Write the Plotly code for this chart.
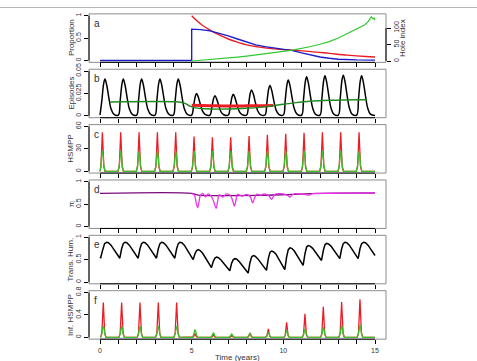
import plotly.graph_objects as go

# ---------------- data ----------------
years = list(range(15))

# panel a
a_red_t = [5.0, 5.3, 5.6, 6.0, 6.5, 7.0, 7.5, 8.0, 8.7, 9.5, 10.5, 11.5, 12.5, 13.5, 14.5, 15.0]
a_red_v = [1.0, 0.88, 0.78, 0.68, 0.57, 0.48, 0.41, 0.35, 0.30, 0.26, 0.23, 0.20, 0.16, 0.12, 0.09, 0.08]
a_blue_t = [0.0, 5.0, 5.0, 5.5, 6.0, 6.5, 7.0, 7.5, 8.0, 8.5, 9.0, 9.5, 10.0, 10.5, 11.0, 11.5, 12.0, 12.5, 13.0, 14.0, 15.0]
a_blue_v = [0.0, 0.0, 0.70, 0.69, 0.66, 0.61, 0.55, 0.48, 0.41, 0.35, 0.31, 0.28, 0.26, 0.22, 0.17, 0.12, 0.08, 0.05, 0.03, 0.015, 0.01]
a_hole_t = [5.0, 5.5, 6.0, 6.5, 7.0, 7.5, 8.0, 8.5, 9.0, 9.5, 10.0, 10.5, 11.0, 11.5, 12.0, 12.5, 13.0,
            13.3, 13.6, 13.9, 14.1, 14.3, 14.45, 14.6, 14.7, 14.8, 14.85, 14.9, 14.95, 15.0]
a_hole_v = [0, 2, 4, 7, 9, 12, 15, 18, 21, 25, 29, 33, 38, 44, 51, 59, 70,
            78, 86, 93, 99, 104, 110, 118, 126, 134, 130, 128, 131, 124]

# panel b
b_off = [0.0, 0.1, 0.2, 0.27, 0.36, 0.48, 0.6, 0.75]
b_black = [
    [0.001, 0.017, 0.036, 0.041, 0.035, 0.0205, 0.008, 0.002],
    [0.001, 0.017, 0.036, 0.041, 0.035, 0.0205, 0.008, 0.002],
    [0.001, 0.017, 0.036, 0.041, 0.035, 0.0205, 0.008, 0.002],
    [0.001, 0.017, 0.036, 0.041, 0.035, 0.0205, 0.008, 0.002],
    [0.001, 0.017, 0.036, 0.041, 0.035, 0.0205, 0.008, 0.002],
    [0.001, 0.0105, 0.022, 0.025, 0.021, 0.0125, 0.005, 0.0015],
    [0.001, 0.0095, 0.0198, 0.0225, 0.019, 0.0113, 0.0045, 0.0013],
    [0.001, 0.010, 0.021, 0.024, 0.0204, 0.012, 0.0048, 0.0014],
    [0.001, 0.012, 0.0255, 0.029, 0.0246, 0.0145, 0.0058, 0.0015],
    [0.001, 0.0143, 0.030, 0.034, 0.029, 0.017, 0.0068, 0.0017],
    [0.001, 0.0168, 0.0352, 0.040, 0.034, 0.020, 0.008, 0.002],
    [0.001, 0.0183, 0.0383, 0.0435, 0.037, 0.0218, 0.0087, 0.002],
    [0.001, 0.0188, 0.0393, 0.0447, 0.038, 0.0224, 0.0089, 0.002],
    [0.001, 0.0191, 0.040, 0.0454, 0.0386, 0.0227, 0.0091, 0.002],
    [0.001, 0.0188, 0.0393, 0.0447, 0.038, 0.0224, 0.0089, 0.002],
]
b_end = [15.0, 0.0005]
b_green_t = [0.55, 4.3, 4.6, 4.9, 5.2, 5.5, 6.0, 7.0, 8.0, 8.7, 9.4, 10.0, 10.5, 11.0, 11.6, 12.5, 13.3, 14.0, 14.55]
b_green_v = [0.0155, 0.0155, 0.0143, 0.011, 0.009, 0.0082, 0.0077, 0.0077, 0.0085, 0.0095, 0.0112, 0.013,
             0.0142, 0.0155, 0.0166, 0.0174, 0.0178, 0.018, 0.018]
b_red_t = [5.0, 6.0, 7.0, 8.0, 9.0, 9.45]
b_red_v = [0.0118, 0.0114, 0.0111, 0.0112, 0.0114, 0.0115]

# panel c (peaks centred at year + 0.13)
c_peak = 0.13
c_off = [-0.15, -0.08, -0.04, 0.0, 0.04, 0.08, 0.15]
c_red = [
    [0, 6, 29, 52, 29, 6, 0], [0, 6, 29, 52, 29, 6, 0], [0, 6, 29, 52, 29, 6, 0],
    [0, 6, 29, 52, 29, 6, 0], [0, 6, 29, 52, 29, 6, 0],
    [0, 5.5, 25.5, 46.5, 25.5, 5.5, 0], [0, 5.5, 25, 45.6, 25, 5.5, 0], [0, 5.5, 25, 45.6, 25, 5.5, 0],
    [0, 5.6, 26, 47, 26, 5.6, 0], [0, 5.8, 27, 48.7, 27, 5.8, 0], [0, 6, 27.5, 50, 27.5, 6, 0],
    [0, 6, 28, 51.3, 28, 6, 0], [0, 6, 29, 52, 29, 6, 0], [0, 6, 29, 52, 29, 6, 0], [0, 6, 29, 52, 29, 6, 0],
]
c_green = [[0, 8, 21, 27, 21, 8, 0] for _ in years]
c_end = [15.0, 0.0]

# panel d
d_purple_t = [0.0, 5.0, 5.3, 5.6, 6.5, 7.5, 8.5, 9.5, 10.5, 11.5, 13.0, 15.0]
d_purple_v = [0.74, 0.74, 0.71, 0.695, 0.69, 0.69, 0.695, 0.705, 0.72, 0.735, 0.745, 0.75]
d_mag_t = [5.0, 5.15, 5.25, 5.33, 5.40, 5.47, 5.6, 5.75, 5.9, 6.08, 6.2, 6.33, 6.42, 6.5, 6.7, 6.9, 7.1, 7.22,
           7.33, 7.42, 7.5, 7.75, 8.0, 8.2, 8.33, 8.43, 8.55, 8.75, 8.95, 9.2, 9.36, 9.5, 9.6, 9.85, 10.1,
           10.25, 10.36, 10.5, 10.65, 10.9, 11.2, 11.4, 11.6, 12.0, 13.0, 14.0, 15.0]
d_mag_v = [0.74, 0.70, 0.52, 0.42, 0.55, 0.69, 0.74, 0.665, 0.73, 0.67, 0.56, 0.41, 0.58, 0.71, 0.66, 0.73,
           0.70, 0.60, 0.46, 0.60, 0.72, 0.68, 0.72, 0.66, 0.53, 0.64, 0.72, 0.70, 0.73, 0.69, 0.61, 0.70,
           0.73, 0.735, 0.72, 0.69, 0.66, 0.71, 0.735, 0.73, 0.72, 0.70, 0.735, 0.74, 0.745, 0.748, 0.75]

# panel e
e_t = [0.0, 0.04, 0.15, 0.25, 0.36, 0.46, 0.6, 0.85,
       1.08, 1.18, 1.27, 1.36, 1.46, 1.6, 1.85,
       2.08, 2.18, 2.27, 2.36, 2.46, 2.6, 2.85,
       3.08, 3.18, 3.27, 3.36, 3.46, 3.6, 3.85,
       4.08, 4.18, 4.27, 4.36, 4.46, 4.6, 4.85,
       5.08, 5.18, 5.27, 5.36, 5.46, 5.6, 5.85,
       6.08, 6.18, 6.27, 6.36, 6.46, 6.6, 6.85,
       7.08, 7.18, 7.27, 7.36, 7.46, 7.6, 7.85,
       8.08, 8.18, 8.27, 8.36, 8.46, 8.6, 8.85,
       9.08, 9.18, 9.27, 9.36, 9.46, 9.6, 9.85,
       10.08, 10.18, 10.27, 10.36, 10.46, 10.6, 10.85,
       11.08, 11.18, 11.27, 11.36, 11.46, 11.6, 11.85,
       12.08, 12.18, 12.27, 12.36, 12.46, 12.6, 12.85,
       13.08, 13.18, 13.27, 13.36, 13.46, 13.6, 13.85,
       14.08, 14.18, 14.27, 14.38, 14.48, 14.62, 14.85, 15.0]
e_v = [0.56, 0.545, 0.72, 0.855, 0.885, 0.875, 0.82, 0.67,
       0.53, 0.74, 0.855, 0.885, 0.875, 0.82, 0.67,
       0.53, 0.74, 0.855, 0.885, 0.875, 0.82, 0.67,
       0.53, 0.74, 0.855, 0.885, 0.875, 0.82, 0.67,
       0.53, 0.74, 0.855, 0.885, 0.875, 0.82, 0.66,
       0.50, 0.63, 0.70, 0.72, 0.70, 0.64, 0.48,
       0.32, 0.46, 0.535, 0.555, 0.54, 0.49, 0.37,
       0.25, 0.42, 0.50, 0.52, 0.51, 0.45, 0.33,
       0.20, 0.43, 0.56, 0.59, 0.575, 0.52, 0.39,
       0.26, 0.52, 0.66, 0.69, 0.675, 0.62, 0.45,
       0.275, 0.56, 0.72, 0.76, 0.75, 0.69, 0.53,
       0.37, 0.63, 0.78, 0.81, 0.80, 0.75, 0.61,
       0.48, 0.70, 0.83, 0.86, 0.85, 0.80, 0.66,
       0.52, 0.74, 0.855, 0.885, 0.875, 0.82, 0.67,
       0.52, 0.74, 0.855, 0.885, 0.875, 0.82, 0.69, 0.59]

# panel f (peaks centred at year + 0.18)
f_peak = 0.18
f_off = [-0.15, -0.08, -0.04, 0.0, 0.04, 0.08, 0.15]
f_red = [
    [0, 0.075, 0.34, 0.62, 0.34, 0.075, 0], [0, 0.075, 0.34, 0.62, 0.34, 0.075, 0],
    [0, 0.075, 0.34, 0.62, 0.34, 0.075, 0], [0, 0.075, 0.34, 0.62, 0.34, 0.075, 0],
    [0, 0.075, 0.34, 0.62, 0.34, 0.075, 0],
    [0, 0.01, 0.04, 0.07, 0.04, 0.01, 0], [0, 0.006, 0.028, 0.05, 0.028, 0.006, 0],
    [0, 0.004, 0.017, 0.03, 0.017, 0.004, 0], [0, 0.01, 0.045, 0.08, 0.045, 0.01, 0],
    [0, 0.018, 0.083, 0.15, 0.083, 0.018, 0], [0, 0.032, 0.15, 0.27, 0.15, 0.032, 0],
    [0, 0.05, 0.23, 0.42, 0.23, 0.05, 0], [0, 0.065, 0.30, 0.545, 0.30, 0.065, 0],
    [0, 0.076, 0.35, 0.63, 0.35, 0.076, 0], [0, 0.082, 0.374, 0.68, 0.374, 0.082, 0],
]
f_green = [
    [0, 0.06, 0.16, 0.2, 0.16, 0.06, 0], [0, 0.06, 0.16, 0.2, 0.16, 0.06, 0],
    [0, 0.06, 0.16, 0.2, 0.16, 0.06, 0], [0, 0.06, 0.16, 0.2, 0.16, 0.06, 0],
    [0, 0.06, 0.16, 0.2, 0.16, 0.06, 0],
    [0, 0.042, 0.112, 0.14, 0.112, 0.042, 0], [0, 0.024, 0.064, 0.08, 0.064, 0.024, 0],
    [0, 0.018, 0.048, 0.06, 0.048, 0.018, 0], [0, 0.021, 0.056, 0.07, 0.056, 0.021, 0],
    [0, 0.027, 0.072, 0.09, 0.072, 0.027, 0], [0, 0.036, 0.096, 0.12, 0.096, 0.036, 0],
    [0, 0.045, 0.12, 0.15, 0.12, 0.045, 0], [0, 0.054, 0.144, 0.18, 0.144, 0.054, 0],
    [0, 0.063, 0.168, 0.21, 0.168, 0.063, 0], [0, 0.068, 0.18, 0.225, 0.18, 0.068, 0],
]
f_end = [15.0, 0.0]

# axes
x_major = [0, 5, 10, 15]
x_labels = ["0", "5", "10", "15"]
panel_letters = ["a", "b", "c", "d", "e", "f"]
y_titles = ["Proportion", "Episodes", "HSMPP", "πᵢ", "Trans. Hum.", "Inf. HSMPP"]
y_ticks = [[0, 0.5, 1], [0, 0.025, 0.05], [0, 30, 60], [0, 0.5, 1], [0, 0.5, 1], [0, 0.4, 0.8]]
y_ticktext = [["0", "0.5", "1"], ["0", "0.025", "0.05"], ["0", "30", "60"],
              ["0", "0.5", "1"], ["0", "0.5", "1"], ["0", "0.4", "0.8"]]
hole_ticks = [0, 50, 100]

# ---------------- geometry / style ----------------
W, H = 477, 361
XL, XR = 89, 386
TOPS = [8, 64.3, 120.6, 176.9, 233.2, 289.5]
PH = 49.3
FONT = "Liberation Sans"
RED = "#ec1c24"
BLUE = "#1c1cc8"
GREEN_A = "#2fc82f"
GREEN_B = "#1f8a1f"
GREEN_C = "#3cbf2a"
PURPLE = "#7a0a7a"
MAGENTA = "#ea35ea"


def xn(i):
    return "x" if i == 1 else f"x{i}"


def yn(i):
    return "y" if i == 1 else f"y{i}"


def ydom(i):
    top = TOPS[i - 1]
    return [1 - (top + PH) / H, 1 - top / H]


def cyc(offsets, cycles, centre, end):
    xs, ys = [], []
    for k, vals in zip(years, cycles):
        for o, v in zip(offsets, vals):
            xs.append(max(0.0, k + centre + o))
            ys.append(v)
    xs.append(end[0])
    ys.append(end[1])
    return xs, ys


fig = go.Figure()


def line(x, y, i, color, width=1.4, yaxis=None, shape="linear"):
    fig.add_trace(go.Scatter(x=x, y=y, mode="lines", xaxis=xn(i), yaxis=yaxis or yn(i),
                             line=dict(color=color, width=width, shape=shape),
                             showlegend=False, hoverinfo="skip"))


# panel a
line(a_red_t, a_red_v, 1, RED, shape="spline")
line(a_blue_t, a_blue_v, 1, BLUE)
line(a_hole_t, a_hole_v, 1, GREEN_A, width=1.2, yaxis="y7")
# panel b
bx, by = cyc(b_off, b_black, 0.0, b_end)
line(bx, by, 2, "black", width=1.5, shape="spline")
line(b_red_t, b_red_v, 2, RED, width=3, shape="spline")
line(b_green_t, b_green_v, 2, GREEN_B, width=1.4, shape="spline")
# panel c
cx, cy = cyc(c_off, c_red, c_peak, c_end)
line(cx, cy, 3, RED, width=1.3)
cx, cy = cyc(c_off, c_green, c_peak, c_end)
line(cx, cy, 3, GREEN_C, width=1.3)
# panel d
line(d_purple_t, d_purple_v, 4, PURPLE, width=1.3, shape="spline")
line(d_mag_t, d_mag_v, 4, MAGENTA, width=1.3, shape="spline")
# panel e
line(e_t, e_v, 5, "black", width=1.5)
# panel f
fx, fy = cyc(f_off, f_red, f_peak, f_end)
line(fx, fy, 6, RED, width=1.3)
fx, fy = cyc(f_off, f_green, f_peak, f_end)
line(fx, fy, 6, GREEN_C, width=1.3)

tickfont = dict(family=FONT, size=7, color="#333333")
layout = dict(width=W, height=H, margin=dict(l=0, r=0, t=0, b=0),
              paper_bgcolor="white", plot_bgcolor="white", showlegend=False)
shapes, annotations = [], []
# thin grey frame line across the top of the figure
shapes.append(dict(type="line", xref="paper", yref="paper", x0=0, x1=1, y0=1 - 1.5 / H, y1=1 - 1.5 / H,
                   line=dict(color="#b4b4b4", width=1)))
for i in range(1, 7):
    yt = y_ticks[i - 1]
    pad = (yt[-1] - yt[0]) * 0.04
    layout["xaxis" if i == 1 else f"xaxis{i}"] = dict(
        domain=[XL / W, XR / W], range=[-0.6, 15.6], anchor=yn(i),
        tickmode="array", tickvals=x_major, ticktext=x_labels, showticklabels=(i == 6),
        ticks="outside", ticklen=4, tickwidth=1, tickcolor="black",
        minor=dict(tick0=0, dtick=1, ticks="outside", ticklen=4, tickwidth=1, tickcolor="black", showgrid=False),
        showgrid=False, zeroline=False, showline=False, tickfont=tickfont, fixedrange=True)
    layout["yaxis" if i == 1 else f"yaxis{i}"] = dict(
        domain=ydom(i), range=[yt[0] - pad, yt[-1] + pad], anchor=xn(i),
        tickmode="array", tickvals=yt, ticktext=y_ticktext[i - 1], tickangle=-90,
        ticks="outside", ticklen=4, tickwidth=1, tickcolor="black",
        showgrid=False, zeroline=False, showline=False, tickfont=tickfont, fixedrange=True)
    d0, d1 = ydom(i)
    shapes.append(dict(type="rect", xref="paper", yref="paper", x0=XL / W, x1=XR / W, y0=d0, y1=d1,
                       line=dict(color="#8c8c8c", width=1)))
    shapes.append(dict(type="line", xref=xn(i), yref="paper", x0=0, x1=15, y0=d0, y1=d0,
                       line=dict(color="black", width=1)))
    shapes.append(dict(type="line", xref="paper", yref=yn(i), x0=XL / W, x1=XL / W, y0=yt[0], y1=yt[-1],
                       line=dict(color="black", width=1)))
    annotations.append(dict(text=panel_letters[i - 1], xref="paper", yref="paper",
                            x=(XL + 3) / W, y=d1 - 2 / H, xanchor="left", yanchor="top", showarrow=False,
                            font=dict(family=FONT, size=10, color="#333333")))
    annotations.append(dict(text=y_titles[i - 1], xref="paper", yref="paper",
                            x=71 / W, y=(d0 + d1) / 2, xanchor="center", yanchor="middle",
                            textangle=-90, showarrow=False,
                            font=dict(family=FONT, size=8, color="#333333")))

layout["yaxis7"] = dict(domain=ydom(1), range=[-4, 143], anchor="x", overlaying="y", side="right",
                        tickmode="array", tickvals=hole_ticks, tickangle=-90,
                        ticks="outside", ticklen=4, tickwidth=1, tickcolor="black",
                        showgrid=False, zeroline=False, showline=False, tickfont=tickfont, fixedrange=True)
shapes.append(dict(type="line", xref="paper", yref="y7", x0=XR / W, x1=XR / W, y0=0, y1=100,
                   line=dict(color="black", width=1)))
annotations.append(dict(text="Hole index", xref="paper", yref="paper",
                        x=402 / W, y=sum(ydom(1)) / 2, xanchor="center", yanchor="middle",
                        textangle=-90, showarrow=False, font=dict(family=FONT, size=8, color="#333333")))
annotations.append(dict(text="Time (years)", xref="paper", yref="paper",
                        x=(XL + XR) / 2 / W, y=1 - 357 / H, xanchor="center", yanchor="middle",
                        showarrow=False, font=dict(family=FONT, size=8, color="#333333")))
layout["shapes"] = shapes
layout["annotations"] = annotations
fig.update_layout(**layout)
fig.write_html("out.html")
